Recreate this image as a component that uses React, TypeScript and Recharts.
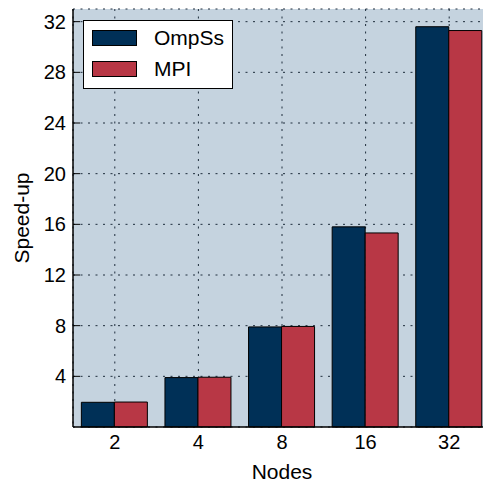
import { BarChart, Bar, XAxis, YAxis, CartesianGrid, Legend } from 'recharts';

const nodes = ['2', '4', '8', '16', '32'];
const ompssSpeedup = [1.95, 3.9, 7.9, 15.8, 31.6];
const mpiSpeedup = [1.97, 3.93, 7.94, 15.32, 31.3];
const yTicks = [4, 8, 12, 16, 20, 24, 28, 32];
const seriesOrder = ['OmpSs', 'MPI'];

const OMPSS_COLOR = '#003057';
const MPI_COLOR = '#b83745';
const FONT = 'Liberation Sans, Arial, sans-serif';

const data = nodes.map((n, i) => ({
  nodes: n,
  OmpSs: ompssSpeedup[i],
  MPI: mpiSpeedup[i],
}));

// y ticks point into the plot, label sits outside
function YTick(props: any) {
  const { x, y, payload } = props;
  return (
    <g>
      <line x1={x + 7} x2={x + 14} y1={y} y2={y} stroke="#000" strokeWidth={1} />
      <text x={x} y={y} dy="0.355em" textAnchor="end" fontSize={20} fontFamily={FONT} fill="#000">
        {payload.value}
      </text>
    </g>
  );
}

function XTick(props: any) {
  const { x, y, payload } = props;
  return (
    <text x={x} y={y} dy="0.71em" textAnchor="middle" fontSize={20} fontFamily={FONT} fill="#000">
      {payload.value}
    </text>
  );
}

// top spine only shows little inward ticks
function TopTick(props: any) {
  const { x, y } = props;
  return <line x1={x} x2={x} y1={y} y2={y + 6} stroke="#000" strokeWidth={1} />;
}

function LegendBox({ payload }: any) {
  const items = [...(payload || [])].sort(
    (a: any, b: any) => seriesOrder.indexOf(a.value) - seriesOrder.indexOf(b.value)
  );
  return (
    <div
      style={{
        background: '#fff',
        border: '1px solid #000',
        width: 148,
        height: 67,
        boxSizing: 'content-box',
        fontFamily: FONT,
        fontSize: 21,
      }}
    >
      {items.map((entry: any) => (
        <div key={entry.value} style={{ position: 'relative', height: 31 }}>
          <div
            style={{
              position: 'absolute',
              left: 8,
              top: 9,
              width: 43,
              height: 14,
              background: entry.color,
              border: '1px solid #000',
            }}
          />
          <span style={{ position: 'absolute', left: 70, top: 5, lineHeight: '24px' }}>
            {entry.value}
          </span>
        </div>
      ))}
    </div>
  );
}

export default function App() {
  return (
    <div style={{ position: 'absolute', left: 0, top: 0, width: 483, height: 487, overflow: 'hidden', background: '#fff' }}>
      <BarChart
        width={500}
        height={487}
        data={data}
        margin={{ top: 9, right: 9, left: 0, bottom: 0 }}
        barCategoryGap="10%"
        barGap={0}
      >
        <CartesianGrid
          fill="#c5d3df"
          stroke="#1e2d3c"
          strokeDasharray="2 5.5"
          strokeWidth={1}
        />
        <XAxis
          dataKey="nodes"
          height={60}
          tickSize={0}
          tickMargin={8}
          tick={<XTick />}
          axisLine={{ stroke: '#000', strokeWidth: 1.5 }}
          label={({ viewBox }: any) => (
            <text
              x={viewBox.x + viewBox.width / 2}
              y={viewBox.y + 45}
              dy="0.355em"
              textAnchor="middle"
              fontSize={21}
              fontFamily={FONT}
              fill="#000"
            >
              Nodes
            </text>
          )}
        />
        <XAxis
          xAxisId="top"
          dataKey="nodes"
          orientation="top"
          height={0}
          tickSize={0}
          tickMargin={0}
          tick={<TopTick />}
          axisLine={{ stroke: '#000', strokeWidth: 1.5 }}
        />
        <YAxis
          width={73}
          domain={[0, 33]}
          ticks={yTicks}
          tickSize={0}
          tickMargin={7}
          tick={<YTick />}
          axisLine={{ stroke: '#000', strokeWidth: 1.5 }}
          label={({ viewBox }: any) => {
            const cx = viewBox.x + 22;
            const cy = viewBox.y + viewBox.height / 2;
            return (
              <text
                x={cx}
                y={cy}
                dy="0.355em"
                textAnchor="middle"
                fontSize={21}
                fontFamily={FONT}
                fill="#000"
                transform={`rotate(-90, ${cx}, ${cy})`}
              >
                Speed-up
              </text>
            );
          }}
        />
        <Legend
          layout="vertical"
          align="center"
          verticalAlign="middle"
          content={<LegendBox />}
          wrapperStyle={{ left: 83, top: 20, width: 150, height: 69 }}
        />
        <Bar dataKey="OmpSs" fill={OMPSS_COLOR} stroke="#000" strokeWidth={1} isAnimationActive={false} />
        <Bar dataKey="MPI" fill={MPI_COLOR} stroke="#000" strokeWidth={1} isAnimationActive={false} />
      </BarChart>
    </div>
  );
}
